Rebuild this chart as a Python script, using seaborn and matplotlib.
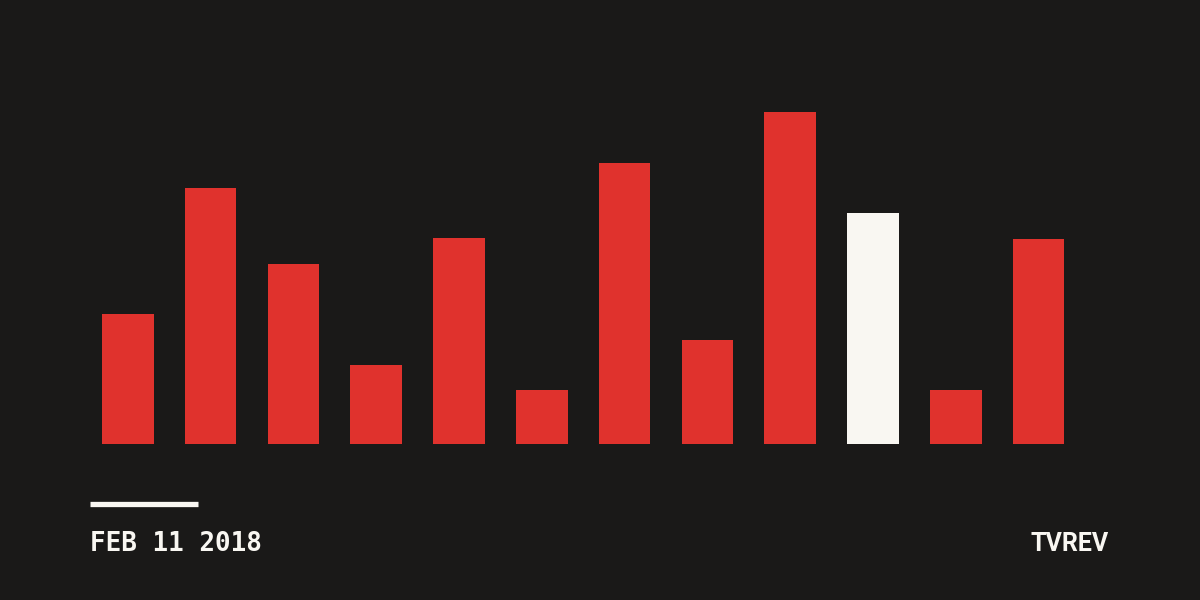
import matplotlib
matplotlib.use("Agg")
import matplotlib.pyplot as plt
import seaborn as sns
import pandas as pd

# hauteurs (en pixels au-dessus de la base)
categories = ["b1", "b2", "b3", "b4", "b5", "b6", "b7", "b8", "b9", "b10", "b11", "b12"]
values = [130, 256, 180, 79, 206, 54, 281, 104, 332, 231, 54, 205]
highlight = "b10"
date_label = "FEB 11 2018"
brand_label = "TVREV"

bg = "#1a1918"
red = "#e0322d"
white = "#f9f7f2"

df = pd.DataFrame({"cat": categories, "val": values})
palette = {c: (white if c == highlight else red) for c in categories}

fig = plt.figure(figsize=(12, 6), dpi=100, facecolor=bg)
ax = fig.add_axes([0, 0, 1, 1])
ax.set_facecolor(bg)

sns.barplot(data=df, x="cat", y="val", hue="cat", palette=palette,
            width=0.624, saturation=1, legend=False, ax=ax)

# centre de la 1re barre a 127.85px, pas de 82.79px, base a 444.3px
x0, step = 127.85, 82.79
ax.set_xlim(-x0 / step, (1200 - x0) / step)
ax.set_ylim(-(600 - 444.3), 444.3)
ax.axis("off")

# trait blanc au-dessus de la date
fig.add_artist(plt.Line2D([90 / 1200, 198 / 1200], [1 - 503.5 / 600] * 2,
                          color=white, linewidth=3.8, solid_capstyle="butt"))

fig.text(90 / 1200, 1 - 551 / 600, date_label, color=white, fontsize=18.7,
         fontweight="bold", family="DejaVu Sans Mono", ha="left", va="baseline")
fig.text(1109 / 1200, 1 - 551 / 600, brand_label, color=white, fontsize=18.0,
         fontweight="bold", family="Roboto", ha="right", va="baseline")

fig.savefig("out.png", facecolor=bg)
